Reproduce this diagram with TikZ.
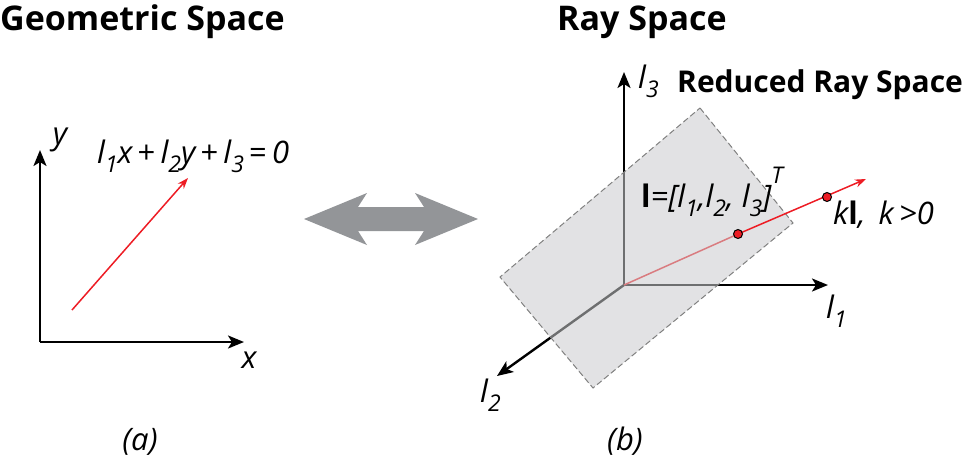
\documentclass[tikz,border=0pt]{standalone}
\usepackage{fontspec}
\setmainfont{Open Sans}
\usetikzlibrary{arrows.meta}
\definecolor{arrowgray}{RGB}{147,149,152}
\definecolor{planegray}{RGB}{202,203,205}
\definecolor{rayred}{RGB}{237,28,36}
\newcommand{\sbs}[1]{\raisebox{-0.3em}{\fontsize{23}{26}\selectfont #1}}
\newcommand{\op}[1]{\,{\upshape #1}\,}

\begin{document}
\begin{tikzpicture}[x=1pt,y=-1pt,
    every node/.style={font=\fontsize{31}{36}\selectfont\itshape, inner sep=0pt},
    titlefont/.style={font=\fontsize{34}{40}\selectfont\bfseries},
    axis/.style={line width=2.4pt, -{Stealth[length=16pt,width=13pt,inset=4pt]}},
    ray/.style={rayred, line width=1.5pt},
    raypoint/.style={circle, draw=black, fill=rayred, line width=1pt, minimum size=9pt}]
\useasboundingbox (0,0) rectangle (963,464);

% (a) geometric space
\node[titlefont, anchor=base west] (geotitle) at (0,30) {Geometric Space};
\coordinate (o1) at (40,342);
\coordinate (ytip) at (40,150);
\coordinate (xtip) at (244,342);
\draw[axis] (o1) -- (ytip);
\draw[axis] (o1) -- (xtip);
\node (ylab) at (60,140) {y};
\node (xlab) at (249,360) {x};
\coordinate (linestart) at (72,310);
\coordinate (lineend) at (188,178);
\draw[ray, -{Stealth[length=11pt,width=8pt]}] (linestart) -- (lineend);
\node[anchor=base west] (eqn) at (97,163) {l\sbs{1}x\op{+}l\sbs{2}y\op{+}l\sbs{3}\op{=}0};
\node[anchor=base] (capa) at (140,450) {(a)};

% double arrow
\fill[arrowgray] (304,219) -- (367,193) -- (358,207) -- (424,207) -- (415,193)
  -- (478,219) -- (415,245) -- (424,231) -- (358,231) -- (367,245) -- cycle;

% (b) ray space
\node[titlefont, anchor=base west] (raytitle) at (557,30) {Ray Space};
\coordinate (o2) at (624,285);
\coordinate (l3tip) at (624,72);
\coordinate (l1tip) at (828,285);
\coordinate (l2tip) at (497,376);
\coordinate (p1) at (738,234);
\coordinate (p2) at (827,197);
\coordinate (raytip) at (866,179);
\draw[axis] (o2) -- (l3tip);
\draw[axis] (o2) -- (l1tip);
\draw[axis] (o2) -- (l2tip);
\draw[ray] (o2) -- (p1);
\fill[planegray, opacity=0.55] (700,108) -- (793,223) -- (593,388) -- (500,277) -- cycle;
\draw[gray, line width=1pt, dash pattern=on 6pt off 3pt] (700,108) -- (793,223) -- (593,388) -- (500,277) -- cycle;
\draw[ray, -{Stealth[length=11pt,width=8pt]}] (p1) -- (raytip);
\node[raypoint] (dot1) at (p1) {};
\node[raypoint] (dot2) at (p2) {};
\node[anchor=base west] (l3lab) at (638,88) {l\sbs{3}};
\node[titlefont, anchor=base west, font=\fontsize{30}{34}\selectfont\bfseries] (redtitle) at (677,92) {Reduced Ray Space};
\node[anchor=base west] (vec) at (641,207) {\upshape\bfseries l\itshape\mdseries=[l\sbs{1},l\sbs{2}, l\sbs{3}]\raisebox{0.75em}{\fontsize{23}{26}\selectfont T}};
\node[anchor=base west] (kl) at (833,224) {k{\upshape\bfseries l}, \,k\,>0};
\node[anchor=base west] (l1lab) at (826,318) {l\sbs{1}};
\node[anchor=base west] (l2lab) at (480,402) {l\sbs{2}};
\node[anchor=base] (capb) at (625,450) {(b)};
\end{tikzpicture}
\end{document}
